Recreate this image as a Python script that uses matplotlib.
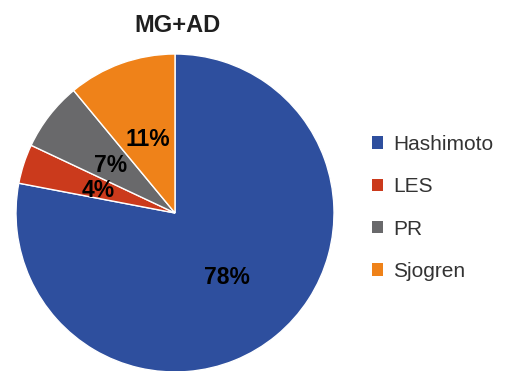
import matplotlib
matplotlib.use("Agg")
import matplotlib.pyplot as plt

# disease share among MG+AD patients
labels = ["Hashimoto", "LES", "PR", "Sjogren"]
shares = [78, 4, 7, 11]
colors = ["#2E4F9E", "#CB3A1C", "#69696B", "#EF8219"]

fig = plt.figure(figsize=(5.09, 3.71), dpi=100)
ax = fig.add_axes([16 / 509, -1 / 371, 318 / 509, 318 / 371])

wedges, texts, autotexts = ax.pie(
    shares,
    colors=colors,
    startangle=90,
    counterclock=False,
    autopct="%d%%",
    pctdistance=0.51,
    wedgeprops=dict(edgecolor="white", linewidth=1.0),
    textprops=dict(family="Liberation Sans", fontweight="bold", fontsize=16.5, color="black"),
)
for t in autotexts:
    t.set_va("center_baseline")
ax.set_xlim(-1, 1)
ax.set_ylim(-1, 1)
ax.set_aspect("equal")
ax.axis("off")

fig.text(177.5 / 509, 1 - 31.5 / 371, "MG+AD", ha="center", va="baseline",
         family="Liberation Sans", fontweight="bold", fontsize=17, color="#1f1f1f")

leg = fig.legend(wedges, labels, loc="upper left",
                 bbox_to_anchor=(372 / 509, 1 - 135 / 371),
                 frameon=False, borderpad=0, borderaxespad=0,
                 handlelength=0.53, handleheight=0.53,
                 handletextpad=0.48, labelspacing=1.12,
                 prop=dict(family="Liberation Sans", size=15))
for t in leg.get_texts():
    t.set_color("#333333")
for h in leg.legend_handles:
    h.set_edgecolor("none")

fig.savefig("out.png", dpi=100)
